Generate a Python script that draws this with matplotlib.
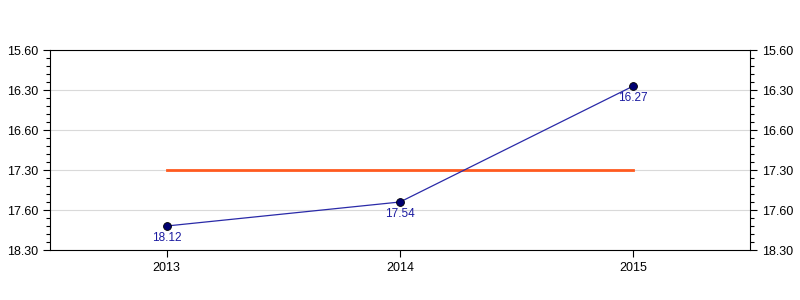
import matplotlib.pyplot as plt
from matplotlib.ticker import MultipleLocator

plt.rcParams['font.family'] = ['Liberation Sans', 'DejaVu Sans']

years = [2013, 2014, 2015]
minutes = [18, 17, 16]
seconds = [12, 54, 27]
target_minutes = 17.5

tick_values = [16.0, 16.5, 17.0, 17.5, 18.0, 18.5]
tick_labels = ['15.60', '16.30', '16.60', '17.30', '17.60', '18.30']

times = [m + s / 60 for m, s in zip(minutes, seconds)]
point_labels = [f'{m}.{s:02d}' for m, s in zip(minutes, seconds)]

fig = plt.figure(figsize=(8, 3), dpi=100)
ax = fig.add_axes([50 / 800, 50 / 300, 700 / 800, 200 / 300])

ax.plot([years[0], years[-1]], [target_minutes, target_minutes], color='#ff5a1f', lw=2, zorder=2)
ax.plot(years, times, color='#2a2aa8', lw=0.9, zorder=3)
ax.scatter(years, times, s=32, color='#000070', edgecolors='black', linewidths=0.6, zorder=4)
for x, y, lab in zip(years, times, point_labels):
    ax.annotate(lab, (x, y), xytext=(0, -4), textcoords='offset points',
                ha='center', va='top', fontsize=8.5, color='#1a1aa0')

ax.set_xlim(2012.5, 2015.5)
ax.set_ylim(18.5, 16.0)
ax.set_xticks(years)
ax.set_xticklabels([str(y) for y in years], fontsize=9)
ax.set_yticks(tick_values)
ax.set_yticklabels(tick_labels, fontsize=9)
ax.yaxis.set_minor_locator(MultipleLocator(0.1))
ax.tick_params(axis='y', which='both', left=True, right=True, labelleft=True, labelright=True)
ax.tick_params(axis='y', which='major', length=5, width=0.8)
ax.tick_params(axis='y', which='minor', length=3, width=0.8)
ax.tick_params(axis='x', length=5, width=0.8)
ax.grid(axis='y', which='major', color='#d9d9d9', lw=0.8)
ax.set_axisbelow(True)
for s in ax.spines.values():
    s.set_linewidth(0.8)

fig.savefig('out.png', dpi=100)
